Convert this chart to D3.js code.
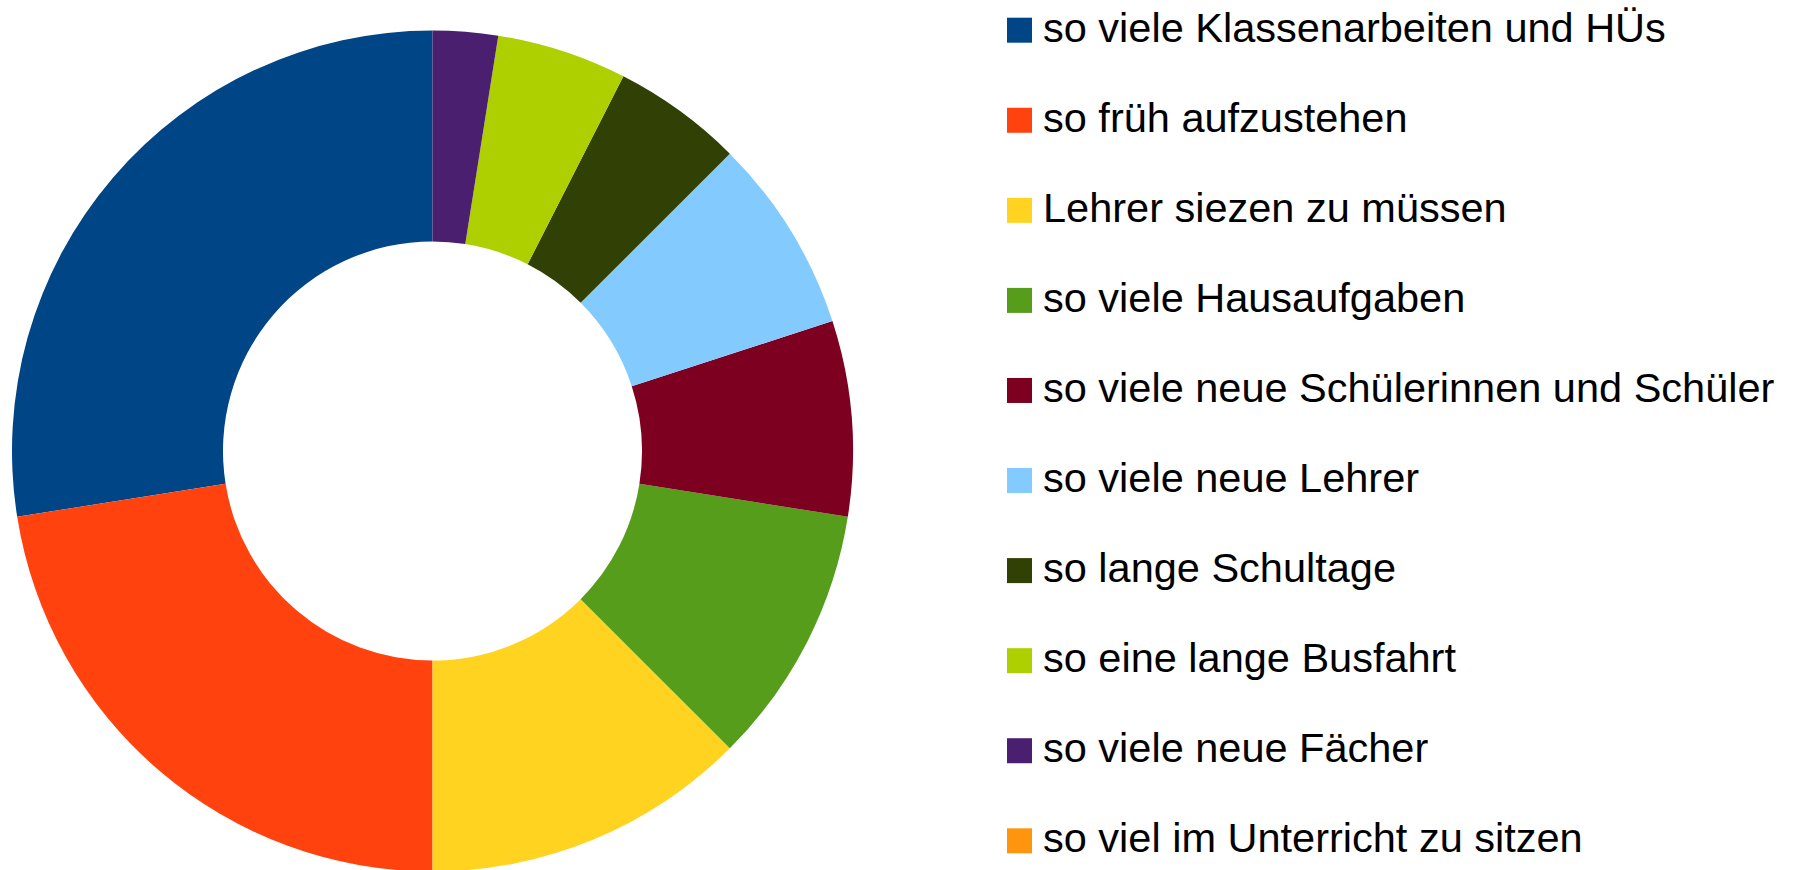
<!DOCTYPE html>
<html>
<head>
<meta charset="utf-8">
<script src="https://cdn.jsdelivr.net/npm/d3@7"></script>
<style>
  body { margin: 0; background: #fff; }
  svg { display: block; }
</style>
</head>
<body>
<script>
const WIDTH = 1793;
const HEIGHT = 870;

// chart data
const categories = [
    "so viele Klassenarbeiten und HÜs",
    "so früh aufzustehen",
    "Lehrer siezen zu müssen",
    "so viele Hausaufgaben",
    "so viele neue Schülerinnen und Schüler",
    "so viele neue Lehrer",
    "so lange Schultage",
    "so eine lange Busfahrt",
    "so viele neue Fächer",
    "so viel im Unterricht zu sitzen"
];
const values = [11, 9, 5, 4, 3, 3, 2, 2, 1, 0];
const colors = ["#004586", "#ff420e", "#ffd320", "#579d1c", "#7e0021",
                "#83caff", "#314004", "#aecf00", "#4b1f6f", "#ff950e"];

const CENTER = {X: 432.5, Y: 451};
const OUTER = 420.5;
const INNER = 209.5;

var svg = d3.select("body").append("svg")
    .attr("width", WIDTH)
    .attr("height", HEIGHT);

var color = d3.scaleOrdinal()
    .domain(categories)
    .range(colors);

// slices run counterclockwise from 12 o'clock
var pie = d3.pie()
    .sort(null)
    .startAngle(0)
    .endAngle(-2 * Math.PI)
    .value(function(d){ return d.value; });

var arc = d3.arc()
    .innerRadius(INNER)
    .outerRadius(OUTER);

var table = categories.map(function(c, i){
    return {name: c, value: values[i]};
});

svg.append("g")
    .attr("transform", "translate(" + CENTER.X + "," + CENTER.Y + ")")
    .selectAll("path")
    .data(pie(table))
    .enter().append("path")
        .attr("d", arc)
        .attr("fill", function(d){ return color(d.data.name); });

// legend
var legendY = d3.scaleLinear()
    .domain([0, categories.length - 1])
    .range([30.2, 840.8]);

var legend = svg.append("g")
    .selectAll("g")
    .data(categories)
    .enter().append("g")
        .attr("transform", function(d, i){
            return "translate(1007," + legendY(i) + ")";
        });

legend.append("rect")
    .attr("x", 0)
    .attr("y", -12.5)
    .attr("width", 25)
    .attr("height", 25)
    .attr("fill", function(d){ return color(d); });

legend.append("text")
    .attr("x", 36)
    .attr("y", 11.5)
    .attr("font-family", "'Liberation Sans', Arial, sans-serif")
    .attr("font-size", "41.5px")
    .attr("fill", "#000")
    .text(function(d){ return d; });
</script>
</body>
</html>
